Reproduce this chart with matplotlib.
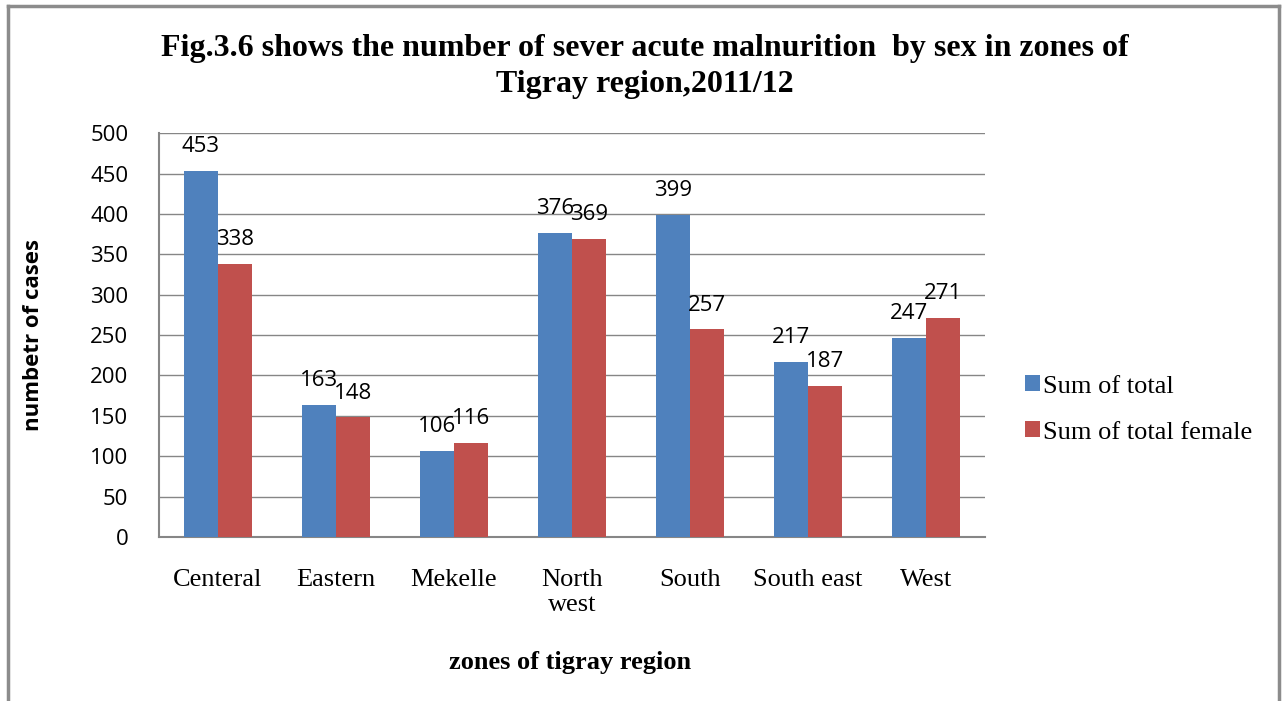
import matplotlib.pyplot as plt
import numpy as np

zones = ['Centeral', 'Eastern', 'Mekelle', 'North\nwest', 'South', 'South east', 'West']
total = [453, 163, 106, 376, 399, 217, 247]
female = [338, 148, 116, 369, 257, 187, 271]

BLUE = '#4F81BD'
RED = '#C0504D'
GRID = '#868686'

fig = plt.figure(figsize=(12.82, 7.01), dpi=100)
ax = fig.add_axes([0.124, 0.234, 0.644, 0.576])

x = np.arange(len(zones))
w = 0.288
b1 = ax.bar(x - w / 2, total, w, color=BLUE, label='Sum of total', zorder=3)
b2 = ax.bar(x + w / 2, female, w, color=RED, label='Sum of total female', zorder=3)

ax.bar_label(b1, padding=10, fontsize=16, family='Open Sans')
ax.bar_label(b2, padding=10, fontsize=16, family='Open Sans')

ax.set_xlim(-0.5, len(zones) - 0.5)
ax.set_ylim(0, 500)
ax.set_yticks(np.arange(0, 501, 50))
ax.yaxis.grid(True, color=GRID, linewidth=1, zorder=0)
ax.set_xticks(x)
ax.set_xticklabels(zones, family='Liberation Serif', fontsize=19, linespacing=1.2)
for t in ax.get_yticklabels():
    t.set_family('Open Sans')
    t.set_fontsize(16)
ax.tick_params(axis='both', length=0)
ax.tick_params(axis='x', pad=23)
ax.tick_params(axis='y', pad=22)

for s in ['top', 'right']:
    ax.spines[s].set_visible(False)
for s in ['left', 'bottom']:
    ax.spines[s].set_color(GRID)
    ax.spines[s].set_linewidth(1.5)

ax.set_ylabel('numbetr of cases', family='Open Sans', fontweight='bold', fontsize=16, labelpad=33)
fig.text(0.445, 0.046, 'zones of tigray region', family='Liberation Serif',
         fontweight='bold', fontsize=19, ha='center')

fig.text(0.503, 0.905, 'Fig.3.6 shows the number of sever acute malnurition  by sex in zones of\nTigray region,2011/12',
         family='Liberation Serif', fontweight='bold', fontsize=23, ha='center', va='center',
         linespacing=1.3)

fig.legend(handles=[b1, b2], loc='center left', bbox_to_anchor=(0.781, 0.416),
           frameon=False, prop={'family': 'Liberation Serif', 'size': 19},
           handlelength=0.55, handleheight=0.55, handletextpad=0.15, labelspacing=0.9)

# outer chart border (left, top, right)
border = dict(color='#8c8c8c', linewidth=2.5, transform=fig.transFigure)
fig.add_artist(plt.Line2D([0.0065, 0.0065], [0, 0.992], **border))
fig.add_artist(plt.Line2D([0.0065, 0.998], [0.992, 0.992], **border))
fig.add_artist(plt.Line2D([0.998, 0.998], [0, 0.992], **border))

fig.savefig('out.png', dpi=100)
